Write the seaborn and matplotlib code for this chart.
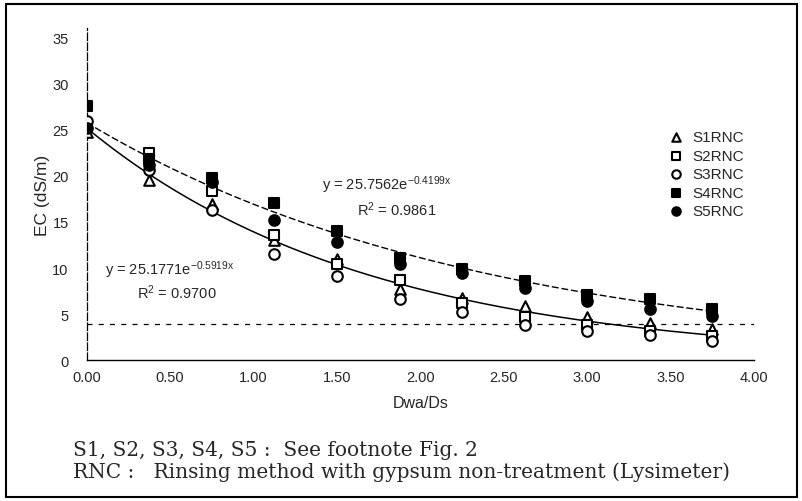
import numpy as np
import pandas as pd
import seaborn as sns
import matplotlib.pyplot as plt
from matplotlib.patches import Rectangle

# Dwa/Ds values and EC (dS/m)
dwa_ds = [0.0, 0.375, 0.75, 1.125, 1.5, 1.875, 2.25, 2.625, 3.0, 3.375, 3.75]
s1 = [24.8, 19.5, 17.0, 13.0, 11.0, 7.7, 6.8, 5.9, 4.7, 4.1, 3.4]
s2 = [25.5, 22.5, 18.4, 13.6, 10.5, 8.7, 6.2, 4.7, 3.8, 3.2, 2.7]
s3 = [25.9, 20.6, 16.3, 11.5, 9.2, 6.7, 5.3, 3.8, 3.2, 2.8, 2.1]
s4 = [27.6, 21.8, 19.8, 17.1, 14.0, 11.1, 9.9, 8.6, 7.1, 6.7, 5.6]
s5 = [25.2, 21.2, 19.3, 15.2, 12.8, 10.5, 9.5, 7.9, 6.4, 5.6, 4.8]

# fitted exponential curves given on the chart
fit_low = (25.1771, -0.5919)
fit_high = (25.7562, -0.4199)
limit_ec = 4

series = {"S1RNC": s1, "S2RNC": s2, "S3RNC": s3, "S4RNC": s4, "S5RNC": s5}
styles = {
    "S1RNC": ("^", "white"),
    "S2RNC": ("s", "white"),
    "S3RNC": ("o", "white"),
    "S4RNC": ("s", "black"),
    "S5RNC": ("o", "black"),
}

sns.set_style("white")
plt.rcParams["font.family"] = ["Liberation Sans", "DejaVu Sans"]
plt.rcParams["mathtext.default"] = "regular"

fig = plt.figure(figsize=(8.03, 5.02), dpi=100)
ax = fig.add_axes([0.108, 0.280, 0.831, 0.662])

for name, vals in series.items():
    m, fc = styles[name]
    sns.scatterplot(x=dwa_ds, y=vals, ax=ax, marker=m, s=58, color=fc,
                    edgecolor="black", linewidth=1.5, label=name, zorder=3)

xs = np.linspace(0, 3.75, 200)
sns.lineplot(x=xs, y=fit_low[0] * np.exp(fit_low[1] * xs), ax=ax,
             color="black", linewidth=1.1, zorder=2)
sns.lineplot(x=xs, y=fit_high[0] * np.exp(fit_high[1] * xs), ax=ax,
             color="black", linewidth=1.0, linestyle=(0, (5, 2)), zorder=2)
ax.axhline(limit_ec, xmin=0, xmax=1.0, color="black", linewidth=0.9,
           linestyle=(0, (4, 5)))

ax.set_xlim(0, 4)
ax.set_ylim(0, 36)
ax.set_xticks(np.arange(0, 4.01, 0.5))
ax.set_xticklabels([f"{v:.2f}" for v in np.arange(0, 4.01, 0.5)])
ax.set_yticks(range(0, 36, 5))
ax.tick_params(axis="x", direction="in", length=4, labelsize=10.5, pad=7)
ax.tick_params(axis="y", direction="out", length=4, labelsize=10.5, pad=9)
for sp in ["top", "right"]:
    ax.spines[sp].set_visible(False)
ax.spines["left"].set_linestyle((0, (6, 2)))
ax.spines["left"].set_linewidth(0.9)
ax.spines["bottom"].set_linewidth(1.0)
ax.spines["left"].set_color("black")
ax.spines["bottom"].set_color("black")

ax.set_xlabel("Dwa/Ds", fontsize=11.5, labelpad=8)
ax.set_ylabel("EC (dS/m)", fontsize=12.5, labelpad=2)

ax.text(1.41, 18.6, "y = 25.7562e$^{-0.4199x}$", fontsize=10.5)
ax.text(1.62, 15.8, "R$^2$ = 0.9861", fontsize=10.5)
ax.text(0.11, 9.4, "y = 25.1771e$^{-0.5919x}$", fontsize=10.5)
ax.text(0.30, 6.8, "R$^2$ = 0.9700", fontsize=10.5)

leg = ax.legend(loc="upper left", bbox_to_anchor=(0.84, 0.735), frameon=False,
                fontsize=11, handletextpad=0.05, labelspacing=0.3,
                markerscale=0.8)

fig.text(0.091, 0.092, "S1, S2, S3, S4, S5 :  See footnote Fig. 2",
         family="DejaVu Serif", fontsize=14.5)
fig.text(0.091, 0.048, "RNC :   Rinsing method with gypsum non-treatment (Lysimeter)",
         family="DejaVu Serif", fontsize=14.5)

fig.patches.append(Rectangle((0.007, 0.008), 0.986, 0.982, transform=fig.transFigure,
                             fill=False, edgecolor="black", linewidth=1.5))

fig.savefig("out.png", dpi=100)
